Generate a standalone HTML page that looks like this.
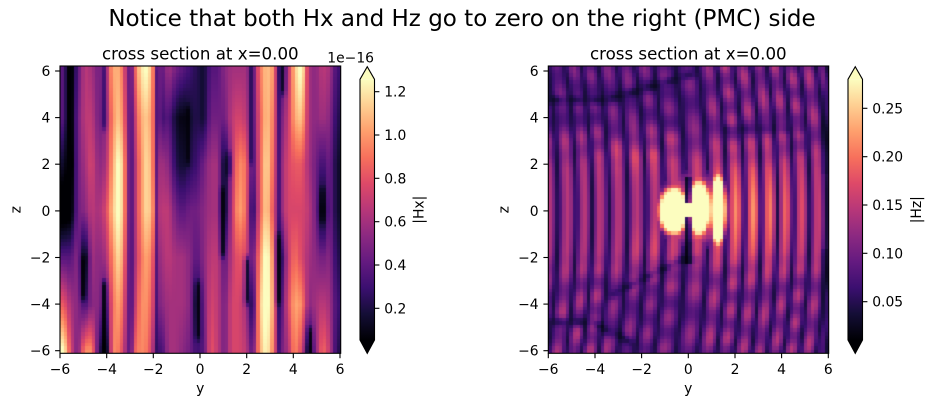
<!DOCTYPE html>
<html><head><meta charset="utf-8">
<style>
html,body{margin:0;padding:0;background:#fff;}
#wrap{position:relative;width:932px;height:406px;overflow:hidden;background:#fff;}
canvas{position:absolute;}
svg{position:absolute;left:0;top:0;}
text{font-family:"DejaVu Sans","Liberation Sans",sans-serif;fill:#000;}
</style></head><body>
<div id="wrap">
<canvas id="c1" width="281" height="287" style="left:60px;top:66px;width:281px;height:287px"></canvas>
<canvas id="c2" width="281" height="287" style="left:548px;top:66px;width:281px;height:287px"></canvas>
<svg width="932" height="406" viewBox="0 0 932 406">
<defs>
<linearGradient id="mg" x1="0" y1="1" x2="0" y2="0">
<stop offset="0" stop-color="#000004"/><stop offset="0.1" stop-color="#140e36"/><stop offset="0.2" stop-color="#3b0f70"/><stop offset="0.3" stop-color="#641a80"/><stop offset="0.4" stop-color="#8c2981"/><stop offset="0.5" stop-color="#b73779"/><stop offset="0.6" stop-color="#de4968"/><stop offset="0.7" stop-color="#f7705c"/><stop offset="0.8" stop-color="#fe9f6d"/><stop offset="0.9" stop-color="#fecf92"/><stop offset="1" stop-color="#fcfdbf"/>
</linearGradient>
</defs>
<text x="462" y="26" font-size="23" text-anchor="middle">Notice that both Hx and Hz go to zero on the right (PMC) side</text>

<!-- LEFT AXES -->
<text x="200.3" y="59.5" font-size="16.67" text-anchor="middle">cross section at x=0.00</text>
<rect x="60" y="66" width="280.7" height="287.3" fill="none" stroke="#000" stroke-width="1.1"/>
<g stroke="#000" stroke-width="1.1">
<line x1="60" y1="353.3" x2="60" y2="358.2"/><line x1="106.7" y1="353.3" x2="106.7" y2="358.2"/><line x1="153.3" y1="353.3" x2="153.3" y2="358.2"/><line x1="200" y1="353.3" x2="200" y2="358.2"/><line x1="246.7" y1="353.3" x2="246.7" y2="358.2"/><line x1="293.3" y1="353.3" x2="293.3" y2="358.2"/><line x1="340" y1="353.3" x2="340" y2="358.2"/>
<line x1="55.1" y1="71" x2="60" y2="71"/><line x1="55.1" y1="117.6" x2="60" y2="117.6"/><line x1="55.1" y1="164.2" x2="60" y2="164.2"/><line x1="55.1" y1="210.9" x2="60" y2="210.9"/><line x1="55.1" y1="257.5" x2="60" y2="257.5"/><line x1="55.1" y1="304.1" x2="60" y2="304.1"/><line x1="55.1" y1="350.7" x2="60" y2="350.7"/>
</g>
<g font-size="13.9" text-anchor="middle">
<text x="60" y="374">−6</text><text x="106.7" y="374">−4</text><text x="153.3" y="374">−2</text><text x="200" y="374">0</text><text x="246.7" y="374">2</text><text x="293.3" y="374">4</text><text x="340" y="374">6</text>
<text x="200.3" y="393">y</text>
</g>
<g font-size="13.9" text-anchor="end">
<text x="50.3" y="76">6</text><text x="50.3" y="122.6">4</text><text x="50.3" y="169.2">2</text><text x="50.3" y="215.9">0</text><text x="50.3" y="262.5">−2</text><text x="50.3" y="309.1">−4</text><text x="50.3" y="355.7">−6</text>
</g>
<text font-size="13.9" text-anchor="middle" transform="translate(20.7,209.7) rotate(-90)">z</text>

<!-- LEFT COLORBAR -->
<rect x="360" y="79.3" width="14.5" height="260.7" fill="url(#mg)"/>
<polygon points="360,79.3 367.25,66.7 374.5,79.3" fill="#fcfdbf"/>
<polygon points="360,340 367.25,353.3 374.5,340" fill="#000004"/>
<polygon points="360,79.3 367.25,66.7 374.5,79.3 374.5,340 367.25,353.3 360,340" fill="none" stroke="#000" stroke-width="1.1"/>
<g stroke="#000" stroke-width="1.1">
<line x1="374.5" y1="91.7" x2="379.4" y2="91.7"/><line x1="374.5" y1="135" x2="379.4" y2="135"/><line x1="374.5" y1="178.3" x2="379.4" y2="178.3"/><line x1="374.5" y1="221.7" x2="379.4" y2="221.7"/><line x1="374.5" y1="265" x2="379.4" y2="265"/><line x1="374.5" y1="308.3" x2="379.4" y2="308.3"/>
</g>
<g font-size="13.9">
<text x="384.2" y="96.7">1.2</text><text x="384.2" y="140">1.0</text><text x="384.2" y="183.3">0.8</text><text x="384.2" y="226.7">0.6</text><text x="384.2" y="270">0.4</text><text x="384.2" y="313.3">0.2</text>
</g>
<text x="374" y="62.5" font-size="13.9" text-anchor="end">1e−16</text>
<text font-size="13.9" text-anchor="middle" transform="translate(423.7,209.7) rotate(-90)">|Hx|</text>

<!-- RIGHT AXES -->
<text x="688.3" y="59.5" font-size="16.67" text-anchor="middle">cross section at x=0.00</text>
<rect x="548.3" y="66" width="280.4" height="287.3" fill="none" stroke="#000" stroke-width="1.1"/>
<g stroke="#000" stroke-width="1.1">
<line x1="548.3" y1="353.3" x2="548.3" y2="358.2"/><line x1="595" y1="353.3" x2="595" y2="358.2"/><line x1="641.6" y1="353.3" x2="641.6" y2="358.2"/><line x1="688.3" y1="353.3" x2="688.3" y2="358.2"/><line x1="735" y1="353.3" x2="735" y2="358.2"/><line x1="781.6" y1="353.3" x2="781.6" y2="358.2"/><line x1="828.3" y1="353.3" x2="828.3" y2="358.2"/>
<line x1="543.4" y1="71" x2="548.3" y2="71"/><line x1="543.4" y1="117.6" x2="548.3" y2="117.6"/><line x1="543.4" y1="164.2" x2="548.3" y2="164.2"/><line x1="543.4" y1="210.9" x2="548.3" y2="210.9"/><line x1="543.4" y1="257.5" x2="548.3" y2="257.5"/><line x1="543.4" y1="304.1" x2="548.3" y2="304.1"/><line x1="543.4" y1="350.7" x2="548.3" y2="350.7"/>
</g>
<g font-size="13.9" text-anchor="middle">
<text x="548.3" y="374">−6</text><text x="595" y="374">−4</text><text x="641.6" y="374">−2</text><text x="688.3" y="374">0</text><text x="735" y="374">2</text><text x="781.6" y="374">4</text><text x="828.3" y="374">6</text>
<text x="688.3" y="393">y</text>
</g>
<g font-size="13.9" text-anchor="end">
<text x="538.6" y="76">6</text><text x="538.6" y="122.6">4</text><text x="538.6" y="169.2">2</text><text x="538.6" y="215.9">0</text><text x="538.6" y="262.5">−2</text><text x="538.6" y="309.1">−4</text><text x="538.6" y="355.7">−6</text>
</g>
<text font-size="13.9" text-anchor="middle" transform="translate(508.6,209.7) rotate(-90)">z</text>

<!-- RIGHT COLORBAR -->
<rect x="848" y="79.3" width="14.5" height="260.7" fill="url(#mg)"/>
<polygon points="848,79.3 855.25,66.7 862.5,79.3" fill="#fcfdbf"/>
<polygon points="848,340 855.25,353.3 862.5,340" fill="#000004"/>
<polygon points="848,79.3 855.25,66.7 862.5,79.3 862.5,340 855.25,353.3 848,340" fill="none" stroke="#000" stroke-width="1.1"/>
<g stroke="#000" stroke-width="1.1">
<line x1="862.5" y1="108.3" x2="867.4" y2="108.3"/><line x1="862.5" y1="156.7" x2="867.4" y2="156.7"/><line x1="862.5" y1="205" x2="867.4" y2="205"/><line x1="862.5" y1="253.3" x2="867.4" y2="253.3"/><line x1="862.5" y1="301.7" x2="867.4" y2="301.7"/>
</g>
<g font-size="13.9">
<text x="872.2" y="113.3">0.25</text><text x="872.2" y="161.7">0.20</text><text x="872.2" y="210">0.15</text><text x="872.2" y="258.3">0.10</text><text x="872.2" y="306.7">0.05</text>
</g>
<text font-size="13.9" text-anchor="middle" transform="translate(921,209.7) rotate(-90)">|Hz|</text>
</svg>
</div>
<script>
(function(){
const MAG=[[0,0,4],[20,14,54],[59,15,112],[100,26,128],[140,41,129],[183,55,121],[222,73,104],[247,112,92],[254,159,109],[254,207,146],[252,253,191]];
function cmap(t){if(!(t>0))t=0;if(t>1)t=1;const x=t*10;const i=Math.min(9,Math.floor(x));const f=x-i;const a=MAG[i],b=MAG[i+1];
return [a[0]+(b[0]-a[0])*f,a[1]+(b[1]-a[1])*f,a[2]+(b[2]-a[2])*f];}
function g(x){return Math.exp(-x*x);}
function win(z,z1,z2){const r=0.4;return Math.max(0,Math.min(1,(z-z1)/r+0.5))*Math.max(0,Math.min(1,(z2-z)/r+0.5));}
const HX=[
[0.35,0.35,0.2,0.05,0.35,0.65,0.95],
[0.08,0.08,0.05,0.1,0.35,0.5,0.6],
[0.35,0.4,0.4,0.4,0.45,0.45,0.4],
[0.55,0.55,0.5,0.45,0.1,0.3,0.75],
[0.5,0.55,0.6,0.55,0.5,0.45,0.75],
[0.4,0.4,0.45,0.5,0.45,0.45,0.3],
[0.5,0.45,0.5,0.6,0.5,0.3,0.05],
[0.8,0.75,0.8,0.85,0.75,0.7,0.75],
[0.8,0.85,0.98,0.98,0.9,0.8,0.7],
[0.5,0.55,0.6,0.6,0.55,0.5,0.45],
[0.6,0.5,0.45,0.45,0.45,0.5,0.65],
[0.9,0.8,0.75,0.75,0.7,0.75,0.75],
[0.95,0.85,0.9,0.9,0.8,0.75,0.7],
[0.65,0.65,0.65,0.7,0.6,0.55,0.45],
[0.35,0.3,0.5,0.55,0.5,0.45,0.3],
[0.5,0.35,0.45,0.55,0.55,0.5,0.5],
[0.4,0.2,0.25,0.4,0.5,0.5,0.5],
[0.35,0.15,0.2,0.35,0.5,0.5,0.45],
[0.3,0.2,0.25,0.4,0.45,0.45,0.4],
[0.25,0.25,0.3,0.4,0.35,0.2,0.3],
[0.2,0.2,0.4,0.45,0.45,0.4,0.35],
[0.35,0.4,0.5,0.5,0.55,0.6,0.65],
[0.35,0.4,0.5,0.5,0.55,0.55,0.55],
[0.45,0.4,0.15,0.15,0.35,0.4,0.4],
[0.5,0.55,0.5,0.55,0.55,0.6,0.6],
[0.5,0.6,0.75,0.8,0.65,0.6,0.6],
[0.5,0.55,0.7,0.7,0.6,0.5,0.55],
[0.35,0.35,0.3,0.2,0.35,0.2,0.35],
[0.7,0.65,0.65,0.65,0.75,0.85,0.8],
[0.85,0.85,0.9,0.88,1.0,1.0,0.95],
[0.75,0.7,0.65,0.6,0.7,0.75,0.7],
[0.3,0.4,0.45,0.45,0.2,0.3,0.4],
[0.5,0.55,0.6,0.6,0.55,0.6,0.5],
[0.85,0.8,0.65,0.6,0.7,0.8,0.75],
[0.98,0.85,0.65,0.6,0.6,0.75,0.6],
[0.5,0.5,0.5,0.55,0.5,0.45,0.15],
[0.45,0.45,0.4,0.4,0.45,0.5,0.45],
[0.55,0.5,0.3,0.1,0.4,0.55,0.7],
[0.5,0.45,0.4,0.4,0.45,0.5,0.55],
[0.3,0.25,0.2,0.2,0.25,0.3,0.25]];
const DL=[
[-5.62,0.12,-0.5,6.3,0.9],[-5.0,0.12,-3.8,-2.0,0.9],[-4.1,0.1,-6.2,-3.0,0.9],[-4.1,0.1,3.5,6.3,0.5],
[-3.0,0.1,-6.2,6.3,0.6],[-1.85,0.1,-6.2,6.3,0.55],[-0.55,0.1,2.0,4.5,0.8],[-0.1,0.12,-5.5,-3.0,0.85],
[0.95,0.1,-2.0,1.0,0.85],[1.2,0.1,1.5,2.5,0.7],[2.0,0.1,-4.0,-2.0,0.85],[2.2,0.1,2.0,6.3,0.5],
[3.35,0.1,-6.2,6.3,0.5],[3.35,0.1,-4,-1,0.8],[3.55,0.1,5.0,6.3,0.8],[4.7,0.1,-6.2,-5.0,0.9],[5.25,0.1,-0.5,1.0,0.9]];
function hx(y,z){
 let fi=(y+5.85)/0.3; if(fi<0)fi=0; if(fi>39)fi=39;
 let i0=Math.min(38,Math.floor(fi)); let fx=fi-i0;
 let fj=(6-z)/2; if(fj<0)fj=0; if(fj>6)fj=6;
 let j0=Math.min(5,Math.floor(fj)); let fy=fj-j0;
 const a=HX[i0][j0],b=HX[i0+1][j0],c=HX[i0][j0+1],d=HX[i0+1][j0+1];
 let t=(a*(1-fx)+b*fx)*(1-fy)+(c*(1-fx)+d*fx)*fy;
 t=1.25*t-0.17;
 for(const L of DL){const k=L[4]*g((y-L[0])/L[1])*win(z,L[2],L[3]);if(k>0.001)t*=1-k;}
 return t;
}
const C=[-6.0,-5.16,-4.45,-3.78,-3.0,-2.2,-1.43,-0.62,0.43,1.28,2.03,2.79,3.5,4.17,4.86,5.57,6.3];
function stripeInfo(y){
 let k,f;
 if(y<C[0]){k=0;f=(y-C[0])/0.8;}
 else{k=C.length-2;for(let i=0;i<C.length-1;i++){if(y<C[i+1]){k=i;break;}}f=(y-C[k])/(C[k+1]-C[k]);}
 const s=0.5+0.5*Math.cos(2*Math.PI*f);
 return [s,(f<0.5?k:k+1)];
}
function lobe(y,z,cy,cz,ry,rz){const e2=((y-cy)/ry)**2+((z-cz)/rz)**2;return Math.exp(-0.6*e2*e2);}
function hz(y,z){
 const yy=y+0.012*z*z;
 const r=stripeInfo(yy);const s=r[0],idx=r[1];
 let hi=0.5+0.28*g(z/2.2)*g((y-2.6)/2.3)+0.15*g((z-2.6)/0.9)*g((y+2)/1.4)+0.1*g((z+1.6)/0.8)*g((y+1.6)/1.0);
 const az=Math.abs(z);
 if(y<1.2&&z>3){hi*=1-0.22*Math.min(1,(z-3)/0.8)*Math.min(1,(1.2-y)/0.6);}
 if(y<0.5&&y>-3.5&&z<-3){hi*=1-0.15*Math.min(1,(-3-z)/0.8);}
 const w=Math.min(1,Math.max(0,(az-1.8)/1.2));
 const per=1.5+0.35*Math.sin(idx*1.7);
 const ch=0.5+0.5*Math.cos(2*Math.PI*z/per+idx*2.3);
 hi*=1-0.35*w*(1-ch);
 const lo=0.12;
 let t=lo+(hi-lo)*Math.pow(s,0.6);
 let D=0;
 if(y<0.8){const zc=4.75+Math.max(0,y+3.5)*0.3;D=Math.max(D,0.7*g((z-zc)/0.22)*(y>0?Math.max(0,1-y/0.8):1));}
 if(y<-2.0){const zc=-4.75-Math.max(0,y+4.2)*0.5;D=Math.max(D,0.7*g((z-zc)/0.22)*Math.min(1,(-2.0-y)/0.5));}
 if(y>-3.6&&y<0.6){const zc=-2.1+0.5*Math.min(0,y+0.3);D=Math.max(D,0.65*g((z-zc)/0.2)*Math.min(1,(0.6-y)/0.5)*Math.min(1,(y+3.6)/0.5));}
 if(y>1.5&&y<5){D=Math.max(D,0.4*g((z-3.5)/0.25));}
 if(y>5.7){D=Math.max(D,(az>1.6?0.85:0.3)*Math.min(1,(y-5.7)/0.15));}
 D*=0.75+0.25*Math.cos(y*7.3+z*2.1);
 t*=1-0.85*D;
 let bt=Math.max(
   1.6*lobe(y,z,-0.6,0.0,0.62,0.95),
   1.6*lobe(y,z,0.45,0.12,0.46,1.12),
   1.6*lobe(y,z,1.27,0.05,0.3,1.45),
   0.85*lobe(y,z,0.25,0.05,1.6,1.45)*(0.75+0.25*s));
 const N=g((y+0.02)/0.15);
 if((z>0.3&&z<1.5)||(z<-0.3&&z>-2.2)){bt*=1-0.95*N;t*=1-0.9*N;}
 return Math.max(t,bt);
}
function draw(id,fn){
 const cv=document.getElementById(id);const ctx=cv.getContext('2d');
 const W=cv.width,H=cv.height;const im=ctx.createImageData(W,H);const dd=im.data;
 for(let py=0;py<H;py++){
  let z=6.21-(py+0.5)*(12.31/287.3);
  let cz=6.21-(Math.floor((6.21-z)/0.154)+0.5)*0.154;
  for(let px=0;px<W;px++){
   let y=-6+(px+0.5)*(12/280.5);
   let cy=-6+(Math.floor((y+6)/0.15)+0.5)*0.15;
   const c=cmap(fn(cy,cz));const o=(py*W+px)*4;
   dd[o]=c[0];dd[o+1]=c[1];dd[o+2]=c[2];dd[o+3]=255;
  }
 }
 ctx.putImageData(im,0,0);
}
draw('c1',hx);draw('c2',hz);
})();
</script>
</body></html>
